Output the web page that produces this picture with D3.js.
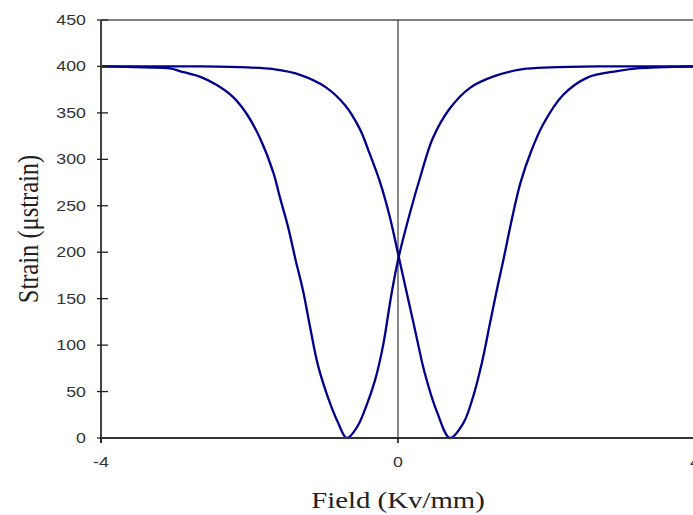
<!DOCTYPE html>
<html>
<head>
<meta charset="utf-8">
<script src="https://cdn.jsdelivr.net/npm/d3@7"></script>
<style>
  body { margin: 0; background: #fff; }
  svg { display: block; }
</style>
</head>
<body>
<svg id="chart" width="693" height="515"></svg>
<script>
// down sweep (minimum at negative field), listed left to right
var fieldA = [-4.00, -3.43, -3.07, -2.94, -2.67, -2.44, -2.22, -2.03, -1.86, -1.68, -1.59, -1.48, -1.38, -1.28, -1.19, -1.08, -0.94, -0.81, -0.69,
              -0.55, -0.42, -0.31, -0.20, -0.09, 0.01, 0.16, 0.30, 0.47, 0.70, 0.97, 1.28, 1.68, 2.05, 2.72, 4.00];
var strainA = [400, 399, 398, 395, 389, 380, 367, 348, 323, 286, 259, 227, 192, 159, 122, 79, 43, 17, 0,
               12, 36, 62, 100, 154, 195, 242, 281, 323, 355, 377, 389, 397, 399, 400, 400];

// up sweep (minimum at positive field)
var fieldB = [-4.00, -2.67, -2.03, -1.68, -1.32, -0.98, -0.71, -0.51, -0.40, -0.24, -0.11, 0.01, 0.11, 0.23, 0.36, 0.53, 0.70,
              0.88, 1.01, 1.13, 1.24, 1.33, 1.42, 1.54, 1.65, 1.80, 1.95, 2.22, 2.55, 2.95, 3.22, 3.49, 4.00];
var strainB = [400, 400, 399, 397, 391, 378, 358, 332, 310, 275, 238, 195, 159, 116, 70, 27, 0,
               16, 44, 81, 124, 159, 192, 238, 275, 310, 337, 369, 388, 395, 398, 399, 400];

var yTicks = [0, 50, 100, 150, 200, 250, 300, 350, 400, 450];
var xTicks = [-4, 0, 4];

var svg = d3.select("#chart");

var x = d3.scaleLinear().domain([-4, 4]).range([101, 695]);
var y = d3.scaleLinear().domain([0, 450]).range([438, 20]);

// top border of the plot area
svg.append("line")
    .attr("x1", x(-4)).attr("x2", 693)
    .attr("y1", y(450)).attr("y2", y(450))
    .attr("stroke", "#000").attr("stroke-width", 1.2);

// vertical line at zero field
svg.append("line")
    .attr("x1", x(0)).attr("x2", x(0))
    .attr("y1", y(450)).attr("y2", y(0) + 5)
    .attr("stroke", "#111").attr("stroke-width", 1);

// curves
var line = d3.line()
    .x(function(d) { return x(d[0]); })
    .y(function(d) { return y(d[1]); })
    .curve(d3.curveCatmullRom.alpha(0.5));

[[fieldA, strainA], [fieldB, strainB]].forEach(function(s) {
    svg.append("path")
        .datum(d3.zip(s[0], s[1]))
        .attr("fill", "none")
        .attr("stroke", "#00008c")
        .attr("stroke-width", 2.3)
        .attr("d", line);
});

// left axis line + crossing ticks
svg.append("line")
    .attr("x1", x(-4)).attr("x2", x(-4))
    .attr("y1", y(450)).attr("y2", y(0) + 5)
    .attr("stroke", "#444").attr("stroke-width", 2);

svg.selectAll(".ytick").data(yTicks).enter().append("line")
    .attr("x1", x(-4) - 4).attr("x2", x(-4) + 7)
    .attr("y1", function(d) { return y(d); })
    .attr("y2", function(d) { return y(d); })
    .attr("stroke", "#222").attr("stroke-width", 1.3);

svg.selectAll(".ylab").data(yTicks).enter().append("text")
    .attr("transform", function(d) { return "translate(86," + (y(d) + 5) + ") scale(1.27,1)"; })
    .attr("text-anchor", "end")
    .attr("font-family", "Liberation Sans, Arial, sans-serif")
    .attr("font-size", 14)
    .attr("fill", "#333")
    .text(function(d) { return d; });

// bottom axis
svg.append("line")
    .attr("x1", x(-4)).attr("x2", 693)
    .attr("y1", y(0)).attr("y2", y(0))
    .attr("stroke", "#333").attr("stroke-width", 2);

svg.selectAll(".xtick").data(xTicks).enter().append("line")
    .attr("x1", function(d) { return x(d); })
    .attr("x2", function(d) { return x(d); })
    .attr("y1", y(0)).attr("y2", y(0) + 5)
    .attr("stroke", "#222").attr("stroke-width", 1.3);

svg.selectAll(".xlab").data(xTicks).enter().append("text")
    .attr("transform", function(d) { return "translate(" + x(d) + ",467) scale(1.27,1)"; })
    .attr("text-anchor", "middle")
    .attr("font-family", "Liberation Sans, Arial, sans-serif")
    .attr("font-size", 14)
    .attr("fill", "#333")
    .text(function(d) { return d; });

// axis titles
svg.append("text")
    .attr("transform", "translate(398,508) scale(1.2,1)")
    .attr("text-anchor", "middle")
    .attr("font-family", "Liberation Serif, Times New Roman, serif")
    .attr("font-size", 24)
    .attr("fill", "#222")
    .text("Field (Kv/mm)");

svg.append("text")
    .attr("transform", "translate(38,229) scale(1.2,1) rotate(-90)")
    .attr("text-anchor", "middle")
    .attr("font-family", "Liberation Serif, Times New Roman, serif")
    .attr("font-size", 24.5)
    .attr("fill", "#222")
    .text("Strain (\u03bcstrain)");
</script>
</body>
</html>
